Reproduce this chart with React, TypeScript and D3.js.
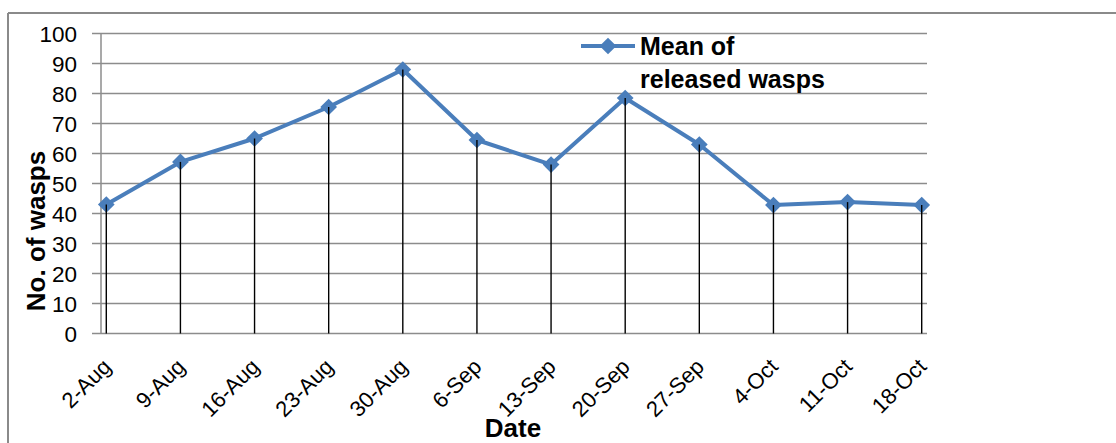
import React from "react";
import * as d3 from "d3";

const dates = [
  "2010-08-02", "2010-08-09", "2010-08-16", "2010-08-23", "2010-08-30", "2010-09-06",
  "2010-09-13", "2010-09-20", "2010-09-27", "2010-10-04", "2010-10-11", "2010-10-18",
];
const dateLabels = [
  "2-Aug", "9-Aug", "16-Aug", "23-Aug", "30-Aug", "6-Sep",
  "13-Sep", "20-Sep", "27-Sep", "4-Oct", "11-Oct", "18-Oct",
];
const meanReleased = [43, 57.2, 65, 75.5, 88, 64.5, 56.3, 78.5, 63, 42.8, 43.8, 42.8];
const yTicks = [0, 10, 20, 30, 40, 50, 60, 70, 80, 90, 100];
const seriesName = ["Mean of", "released wasps"];

const W = 1116;
const H = 443;
const FONT = "'Liberation Sans', Arial, sans-serif";
const BLUE = "#4A7EBB";
const GRID = "#8c8c8c";

export default function App() {
  const parse = (s: string) => new Date(s + "T12:00:00Z");
  const x = d3
    .scaleUtc()
    .domain([new Date("2010-08-02T00:00:00Z"), new Date("2010-10-19T00:00:00Z")])
    .range([101, 927]);
  const y = d3.scaleLinear().domain([0, 100]).range([333.5, 33.5]);

  const pts = dates.map((d, i) => ({ x: x(parse(d)), y: y(meanReleased[i]), label: dateLabels[i] }));
  const line = d3
    .line<{ x: number; y: number }>()
    .x((d) => d.x)
    .y((d) => d.y);
  const diamond = d3.symbol(d3.symbolSquare, 140)() as string;

  return (
    <svg
      width={W}
      height={H}
      style={{ position: "absolute", left: 0, top: 0, background: "#fff" }}
      fontFamily={FONT}
    >
      {/* outer chart border */}
      <line x1={8} y1={13} x2={W} y2={13} stroke="#8a8a8a" strokeWidth={2} />
      <line x1={8} y1={13} x2={8} y2={H} stroke="#8a8a8a" strokeWidth={2} />

      {/* gridlines */}
      {yTicks.map((t) => (
        <line key={"g" + t} x1={92} x2={927} y1={y(t)} y2={y(t)} stroke={GRID} strokeWidth={1.5} />
      ))}
      {/* y axis line */}
      <line x1={101} x2={101} y1={y(100)} y2={y(0)} stroke={GRID} strokeWidth={1.5} />

      {/* y tick labels */}
      {yTicks.map((t) => (
        <text key={"yl" + t} x={77} y={y(t)} dy="0.36em" textAnchor="end" fontSize={22.5} fill="#000">
          {t}
        </text>
      ))}

      {/* series line */}
      <path d={line(pts) as string} fill="none" stroke={BLUE} strokeWidth={4} strokeLinejoin="round" />
      {pts.map((p, i) => (
        <path key={"m" + i} d={diamond} transform={`translate(${p.x},${p.y}) rotate(45)`} fill={BLUE} />
      ))}
      {/* drop lines */}
      {pts.map((p, i) => (
        <line key={"d" + i} x1={p.x} x2={p.x} y1={p.y} y2={y(0)} stroke="#000" strokeWidth={1.4} />
      ))}

      {/* x tick labels */}
      {pts.map((p, i) => (
        <text
          key={"xl" + i}
          transform={`translate(${p.x + 6},${368}) rotate(-45)`}
          textAnchor="end"
          fontSize={22}
          fill="#000"
        >
          {p.label}
        </text>
      ))}

      {/* axis titles */}
      <text
        transform={`translate(${45},${231}) rotate(-90)`}
        textAnchor="middle"
        fontSize={26}
        fontWeight="bold"
        fill="#000"
      >
        No. of wasps
      </text>
      <text x={513} y={437} textAnchor="middle" fontSize={26} fontWeight="bold" fill="#000">
        Date
      </text>

      {/* legend */}
      <line x1={581} x2={635} y1={46} y2={46} stroke={BLUE} strokeWidth={4} />
      <path d={diamond} transform={`translate(608,46) rotate(45)`} fill={BLUE} />
      <text x={640} y={55} fontSize={25} fontWeight="bold" fill="#000">
        {seriesName[0]}
      </text>
      <text x={640} y={88} fontSize={25} fontWeight="bold" fill="#000">
        {seriesName[1]}
      </text>
    </svg>
  );
}
